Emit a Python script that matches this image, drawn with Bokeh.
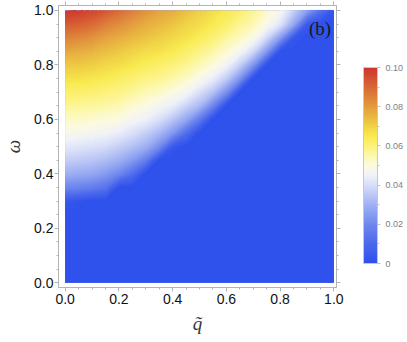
import numpy as np
from bokeh.plotting import figure
from bokeh.models import (Range1d, FixedTicker, PrintfTickFormatter, LinearAxis,
                          ColorBar, LinearColorMapper, Label)
from bokeh.embed import file_html
from bokeh.resources import INLINE

# ---------------- data ----------------
q_vals = [0.00, 0.05, 0.10, 0.15, 0.20, 0.25, 0.30, 0.35, 0.40, 0.45, 0.50,
          0.55, 0.60, 0.65, 0.70, 0.75, 0.80, 0.85, 0.90, 0.95, 1.00]
w_vals = [0.00, 0.05, 0.10, 0.15, 0.20, 0.25, 0.30, 0.35, 0.40, 0.45, 0.50,
          0.55, 0.60, 0.65, 0.70, 0.75, 0.80, 0.85, 0.90, 0.95, 1.00]

# rows follow w_vals (omega), columns follow q_vals (q~)
z_rows = [
    [0, 0, 0, 0, 0, 0, 0, 0, 0, 0, 0, 0, 0, 0, 0, 0, 0, 0, 0, 0, 0],  # 0.00
    [0, 0, 0, 0, 0, 0, 0, 0, 0, 0, 0, 0, 0, 0, 0, 0, 0, 0, 0, 0, 0],  # 0.05
    [0, 0, 0, 0, 0, 0, 0, 0, 0, 0, 0, 0, 0, 0, 0, 0, 0, 0, 0, 0, 0],  # 0.10
    [0, 0, 0, 0, 0, 0, 0, 0, 0, 0, 0, 0, 0, 0, 0, 0, 0, 0, 0, 0, 0],  # 0.15
    [0, 0, 0, 0, 0, 0, 0, 0, 0, 0, 0, 0, 0, 0, 0, 0, 0, 0, 0, 0, 0],  # 0.20
    [0, 0, 0, 0, 0, 0, 0, 0, 0, 0, 0, 0, 0, 0, 0, 0, 0, 0, 0, 0, 0],  # 0.25
    [0.004, 0.002, 0, 0, 0, 0, 0, 0, 0, 0, 0, 0, 0, 0, 0, 0, 0, 0, 0, 0, 0],  # 0.30
    [0.020, 0.019, 0.017, 0.014, 0, 0, 0, 0, 0, 0, 0, 0, 0, 0, 0, 0, 0, 0, 0, 0, 0],  # 0.35
    [0.030, 0.029, 0.028, 0.025, 0.020, 0.012, 0, 0, 0, 0, 0, 0, 0, 0, 0, 0, 0, 0, 0, 0, 0],  # 0.40
    [0.037, 0.036, 0.035, 0.033, 0.030, 0.025, 0.017, 0, 0, 0, 0, 0, 0, 0, 0, 0, 0, 0, 0, 0, 0],  # 0.45
    [0.043, 0.042, 0.041, 0.040, 0.037, 0.034, 0.030, 0.021, 0.004, 0, 0, 0, 0, 0, 0, 0, 0, 0, 0, 0, 0],  # 0.50
    [0.048, 0.048, 0.047, 0.046, 0.044, 0.041, 0.037, 0.032, 0.024, 0.012, 0, 0, 0, 0, 0, 0, 0, 0, 0, 0, 0],  # 0.55
    [0.053, 0.053, 0.052, 0.051, 0.050, 0.047, 0.045, 0.041, 0.035, 0.028, 0.016, 0, 0, 0, 0, 0, 0, 0, 0, 0, 0],  # 0.60
    [0.058, 0.057, 0.057, 0.056, 0.055, 0.052, 0.050, 0.047, 0.044, 0.038, 0.032, 0.019, 0, 0, 0, 0, 0, 0, 0, 0, 0],  # 0.65
    [0.062, 0.062, 0.061, 0.060, 0.059, 0.057, 0.055, 0.053, 0.050, 0.047, 0.041, 0.034, 0.022, 0, 0, 0, 0, 0, 0, 0, 0],  # 0.70
    [0.067, 0.067, 0.066, 0.065, 0.063, 0.061, 0.059, 0.058, 0.056, 0.053, 0.049, 0.044, 0.036, 0.023, 0, 0, 0, 0, 0, 0, 0],  # 0.75
    [0.072, 0.072, 0.071, 0.069, 0.068, 0.066, 0.064, 0.062, 0.060, 0.058, 0.055, 0.051, 0.046, 0.037, 0.023, 0, 0, 0, 0, 0, 0],  # 0.80
    [0.078, 0.077, 0.076, 0.074, 0.072, 0.070, 0.068, 0.067, 0.065, 0.062, 0.059, 0.056, 0.052, 0.047, 0.039, 0.024, 0, 0, 0, 0, 0],  # 0.85
    [0.085, 0.084, 0.082, 0.079, 0.077, 0.075, 0.073, 0.071, 0.069, 0.067, 0.064, 0.061, 0.057, 0.054, 0.049, 0.039, 0.025, 0.004, 0, 0, 0],  # 0.90
    [0.093, 0.092, 0.090, 0.086, 0.083, 0.080, 0.077, 0.075, 0.073, 0.070, 0.068, 0.065, 0.062, 0.058, 0.055, 0.049, 0.042, 0.028, 0.005, 0, 0],  # 0.95
    [0.100, 0.099, 0.097, 0.094, 0.090, 0.086, 0.082, 0.079, 0.077, 0.074, 0.071, 0.068, 0.065, 0.062, 0.058, 0.053, 0.048, 0.037, 0.026, 0.013, 0.003],  # 1.00
]

axis_ticks = [0.0, 0.2, 0.4, 0.6, 0.8, 1.0]
axis_minor = [0.05, 0.10, 0.15, 0.25, 0.30, 0.35, 0.45, 0.50, 0.55,
              0.65, 0.70, 0.75, 0.85, 0.90, 0.95]
cbar_ticks = [0.0, 0.02, 0.04, 0.06, 0.08, 0.1]
cbar_minor = [0.01, 0.03, 0.05, 0.07, 0.09]
z_low, z_high = 0.0, 0.1

# ---------------- colour map (TemperatureMap-like) ----------------
stop_pos = [0.00, 0.10, 0.20, 0.30, 0.40, 0.45, 0.50, 0.55, 0.60, 0.65,
            0.70, 0.75, 0.80, 0.85, 0.90, 0.95, 1.00]
stop_rgb = [(46, 80, 236), (75, 104, 236), (112, 136, 238), (160, 177, 243),
            (215, 222, 248), (240, 242, 248), (252, 250, 225), (253, 248, 175),
            (252, 242, 120), (249, 234, 80), (240, 210, 70), (233, 183, 65),
            (227, 155, 62), (222, 130, 58), (217, 104, 54), (212, 78, 50),
            (207, 52, 46)]


def cmap(t):
    r = np.interp(t, stop_pos, [c[0] for c in stop_rgb])
    g = np.interp(t, stop_pos, [c[1] for c in stop_rgb])
    b = np.interp(t, stop_pos, [c[2] for c in stop_rgb])
    return "#%02x%02x%02x" % (int(round(r)), int(round(g)), int(round(b)))


N = 120
palette = [cmap((i + 0.5) / N) for i in range(N)]
levels = list(np.linspace(z_low, z_high, N + 1))
levels[0] = z_low - 1e-6
levels[-1] = z_high + 1e-6
line_palette = [palette[0]] + palette

# ---------------- figure ----------------
p = figure(width=407, height=342,
           x_range=Range1d(-0.0247, 1.0099), y_range=Range1d(-0.0173, 1.0183),
           output_backend="svg", toolbar_location=None,
           min_border_left=55, min_border_right=71, min_border_top=5,
           min_border_bottom=55)
p.xgrid.visible = False
p.ygrid.visible = False
p.outline_line_color = "#b4b4b4"
p.background_fill_color = "white"
p.border_fill_color = "white"

# blue floor under the field (value 0)
p.quad(left=q_vals[0], right=q_vals[-1], bottom=w_vals[0], top=w_vals[-1],
       fill_color=palette[0], line_color=None)

p.contour(q_vals, w_vals, np.array(z_rows, dtype=float), levels,
          fill_color=palette, line_color=line_palette, line_width=1.6,
          line_join="round")

frame_col = "#b4b4b4"


def style_axis(ax, show_labels, standoff):
    ax.ticker = FixedTicker(ticks=axis_ticks, minor_ticks=axis_minor)
    ax.formatter = PrintfTickFormatter(format="%.1f")
    ax.axis_line_color = frame_col
    ax.major_tick_line_color = frame_col
    ax.minor_tick_line_color = frame_col
    ax.major_tick_in = 0
    ax.major_tick_out = 4
    ax.minor_tick_in = 0
    ax.minor_tick_out = 2
    ax.major_label_standoff = standoff
    if show_labels:
        ax.major_label_text_font = "Liberation Sans"
        ax.major_label_text_font_size = "14px"
        ax.major_label_text_color = "#111111"
        ax.axis_label_text_font = "Liberation Serif"
        ax.axis_label_text_font_style = "italic"
        ax.axis_label_text_font_size = "19px"
        ax.axis_label_text_color = "#333333"
    else:
        ax.major_label_text_font_size = "0px"
        ax.major_label_text_alpha = 0


style_axis(p.xaxis[0], True, 2)
style_axis(p.yaxis[0], True, 1)
p.xaxis[0].axis_label = "q\u0303"
p.xaxis[0].axis_label_standoff = 6
p.yaxis[0].axis_label = "\u03c9"
p.yaxis[0].axis_label_standoff = 7

ax_top = LinearAxis()
style_axis(ax_top, False, 0)
p.add_layout(ax_top, "above")
ax_right = LinearAxis()
style_axis(ax_right, False, 0)
p.add_layout(ax_right, "right")

# colour bar
mapper = LinearColorMapper(palette=palette, low=z_low, high=z_high)
cb = ColorBar(color_mapper=mapper, location=(305, 24), width=14, height=196,
              padding=0, margin=0,
              ticker=FixedTicker(ticks=cbar_ticks, minor_ticks=cbar_minor),
              formatter=PrintfTickFormatter(format="%.2f"),
              major_label_overrides={0: "0"},
              major_label_text_font="Liberation Sans",
              major_label_text_font_size="9px",
              major_label_text_color="#808080",
              label_standoff=5,
              major_tick_line_color="#c0c0c0", major_tick_in=0, major_tick_out=3,
              minor_tick_line_color="#c0c0c0", minor_tick_in=0, minor_tick_out=2,
              bar_line_color="#c8c8c8",
              background_fill_color=None, border_line_color=None)
p.add_layout(cb)

p.add_layout(Label(x=0.99, y=0.935, text="(b)", text_align="right",
                   text_baseline="middle", text_font="Liberation Serif",
                   text_font_size="19px", text_color="#1a1a1a"))

open("out.html", "w").write(file_html(p, INLINE))
